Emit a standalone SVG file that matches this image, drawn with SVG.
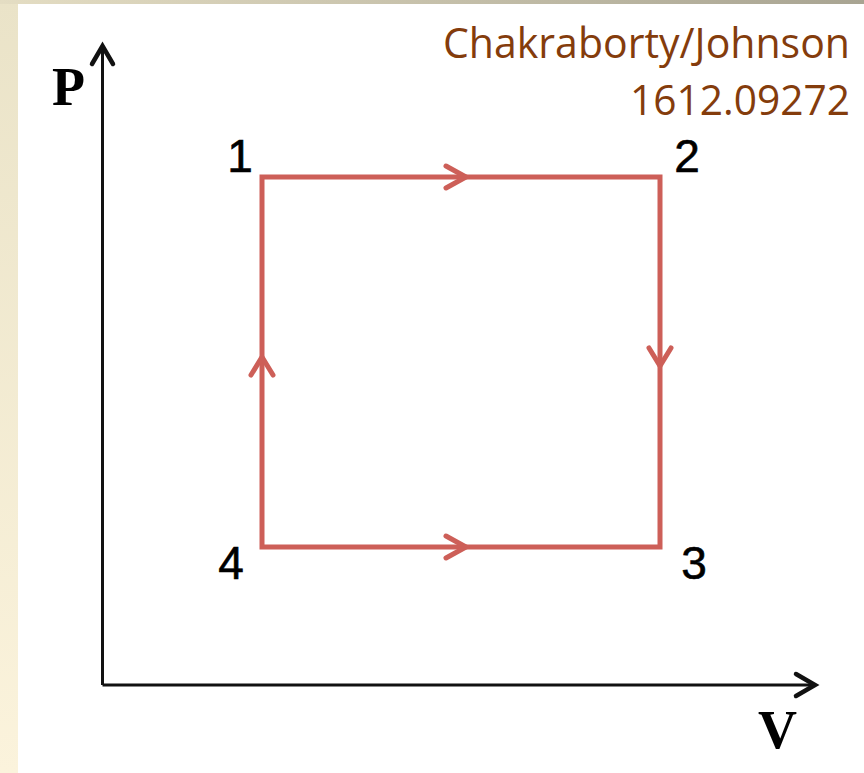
<svg xmlns="http://www.w3.org/2000/svg" width="864" height="773" viewBox="0 0 864 773">
  <defs>
    <linearGradient id="leftStrip" x1="0" y1="0" x2="0" y2="1">
      <stop offset="0" stop-color="#EAE3C8"/>
      <stop offset="1" stop-color="#FBF3DC"/>
    </linearGradient>
    <linearGradient id="topStrip" x1="0" y1="0" x2="1" y2="0">
      <stop offset="0" stop-color="#E4DDC3"/>
      <stop offset="1" stop-color="#A8A492"/>
    </linearGradient>
  </defs>
  <style>
    .axis { stroke: #111; stroke-width: 3; fill: none; stroke-linecap: butt; stroke-linejoin: round; }
    .axchev { stroke: #111; stroke-width: 4.5; fill: none; stroke-linecap: round; stroke-linejoin: miter; }
    .cycle { stroke: #CD5F58; stroke-width: 5; fill: none; stroke-linecap: round; stroke-linejoin: miter; }
    .chev { stroke: #CD5F58; stroke-width: 5; fill: none; stroke-linecap: round; stroke-linejoin: miter; }
    .axlab { font-family: "Liberation Serif", "Times New Roman", serif; font-weight: bold; font-size: 54px; fill: #000; }
    .num { font-family: "Liberation Sans", Arial, sans-serif; font-size: 46px; fill: #000; stroke: #000; stroke-width: 0.6; text-anchor: middle; }
    .cite { font-family: "Open Sans", "Lato", sans-serif; font-size: 42px; fill: #843C0C; text-anchor: end; }
  </style>

  <rect x="0" y="0" width="864" height="773" fill="#FFFFFF"/>
  <rect x="0" y="0" width="18" height="773" fill="url(#leftStrip)"/>
  <rect x="0" y="0" width="864" height="4" fill="url(#topStrip)"/>

  <g id="axes">
    <path class="axis" d="M102.5,685 V46 M102.5,685 H815"/>
    <path class="axchev" d="M92,64 L102.5,46 L113,64"/>
    <path class="axchev" d="M796,674 L815,685 L796,696"/>
    <text class="axlab" x="52" y="105">P</text>
    <text class="axlab" x="758" y="748">V</text>
  </g>

  <g id="citation">
    <text class="cite" x="850" y="58" textLength="407" lengthAdjust="spacingAndGlyphs">Chakraborty/Johnson</text>
    <text class="cite" x="850" y="115" textLength="220" lengthAdjust="spacingAndGlyphs">1612.09272</text>
  </g>

  <g id="connectors">
    <path class="cycle" d="M262,177 H660 V547 H262 Z"/>
    <path class="chev" d="M446,166 L466,177 L446,188"/>
    <path class="chev" d="M446,536 L466,547 L446,558"/>
    <path class="chev" d="M649,348 L660,366 L671,348"/>
    <path class="chev" d="M251,375 L262,357 L273,375"/>
  </g>

  <g id="node-1"><text class="num" x="240" y="172">1</text></g>
  <g id="node-2"><text class="num" x="687" y="172">2</text></g>
  <g id="node-3"><text class="num" x="694" y="579">3</text></g>
  <g id="node-4"><text class="num" x="231" y="579">4</text></g>
</svg>
